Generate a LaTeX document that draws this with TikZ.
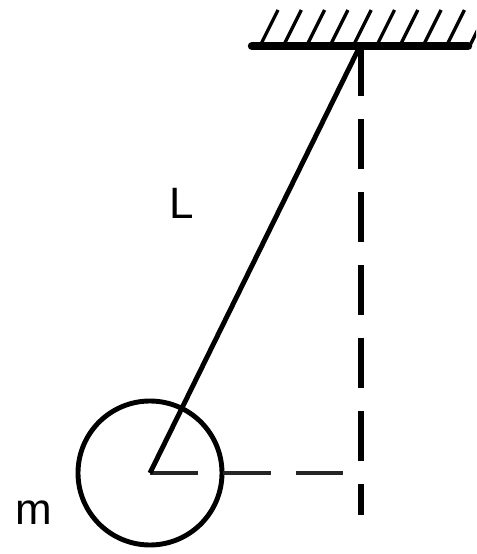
\documentclass[tikz,border=0pt]{standalone}
\usepackage{fontspec}
\setmainfont{Liberation Sans}
\usepackage{tikz}
\usetikzlibrary{positioning,calc}

\begin{document}
\begin{tikzpicture}[
		lbl/.style={font=\fontsize{25}{30}\selectfont, inner sep=0pt},
		rodline/.style={black, line width=2.8pt},
		plumb/.style={black, line width=3.2pt, dash pattern=on 1cm off 0.46cm},
		levelline/.style={black!85, line width=2.2pt, dash pattern=on 0.96cm off 0.5cm}
	]
		\useasboundingbox (0,0) rectangle (9.52,11.08);
		\clip (0,0) rectangle (9.52,11.08);
		
		% ceiling
		\foreach \k in {0,...,9}
			\draw[black, line width=1.9pt] (5.2+0.466*\k,10.16) -- ++(0.36,0.72);
		\draw[black, line width=4.8pt, line cap=round] (5.04,10.16) -- (9.36,10.16);
		
		\coordinate (pivot) at (7.2,10.16);
		\coordinate (plumbend) at (7.22,0.78);
		\coordinate (levelend) at (6.86,1.62);
		
		% mass
		\node[circle, draw, line width=2.8pt, minimum size=2.88cm, inner sep=0pt] (mass) at (3.0,1.62) {};
		
		\draw[plumb] (7.22,10.16) -- (plumbend);
		\draw[levelline] (mass.center) -- (levelend);
		\draw[rodline] (pivot) -- (mass.center);
		
		\node[lbl] (len) at (3.64,7.02) {L};
		\node[lbl] (mlabel) at (0.68,0.82) {m};
\end{tikzpicture}
\end{document}
